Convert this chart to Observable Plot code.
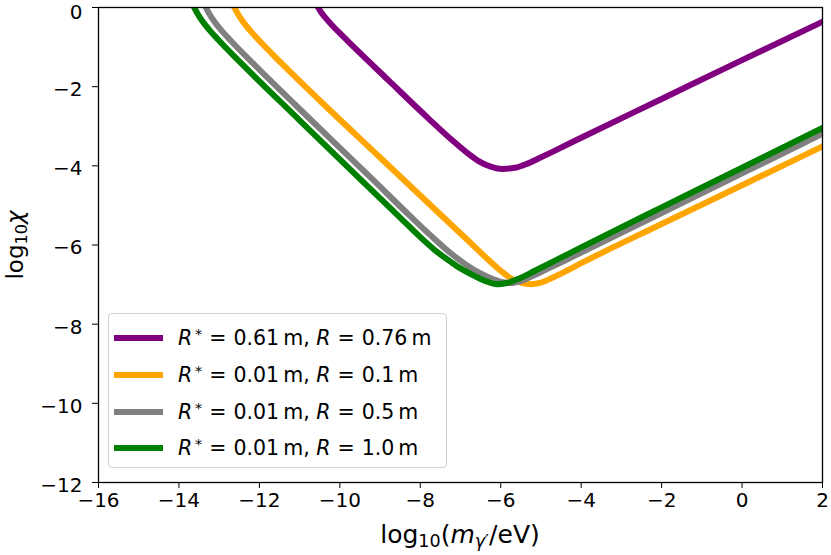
<!DOCTYPE html>
<html>
<head>
<meta charset="utf-8">
<script src="https://cdn.jsdelivr.net/npm/d3@7"></script>
<script src="https://cdn.jsdelivr.net/npm/@observablehq/plot@0.6"></script>
<style>
  html, body { margin: 0; padding: 0; background: white; }
  #wrap { position: relative; width: 831px; height: 555px; font-family: "DejaVu Sans", sans-serif; color: black; }
  #chart svg { display: block; }
  .legend { position: absolute; left: 108px; top: 313px; width: 339px; height: 155px; border: 1px solid #d0d0d0; border-radius: 4px; background: rgba(255,255,255,0.85); box-sizing: border-box; }
  .row { position: absolute; left: 0; height: 30px; display: flex; align-items: center; font-size: 20.5px; white-space: nowrap; }
  .swatch { display: inline-block; width: 49px; height: 6px; margin-left: 5px; margin-right: 15px; }
  .row sup { font-size: 0.7em; vertical-align: 0.45em; line-height: 0; }
  .eq { margin: 0 7px; }
  .xlabel { position: absolute; left: 460px; top: 520px; transform: translateX(-50%); font-size: 25px; white-space: nowrap; }
  .ylabel { position: absolute; left: 15px; top: 245px; transform: translate(-50%, -50%) rotate(-90deg); font-size: 23px; white-space: nowrap; }
  sub { font-size: 0.7em; vertical-align: -0.25em; line-height: 0; }
</style>
</head>
<body>
<div id="wrap">
  <div id="chart"></div>
  <div class="legend" id="legend"></div>
  <div class="xlabel">log<sub>10</sub>(<i>m</i><sub><i>γ</i>′</sub>/eV)</div>
  <div class="ylabel">log<sub>10</sub><i>χ</i></div>
</div>
<script>
// ---- data ----
const xTicks = [-16, -14, -12, -10, -8, -6, -4, -2, 0, 2];
const yTicks = [-12, -10, -8, -6, -4, -2, 0];

const seriesNames = [
  "R*=0.61 m, R=0.76 m",
  "R*=0.01 m, R=0.1 m",
  "R*=0.01 m, R=0.5 m",
  "R*=0.01 m, R=1.0 m"
];
const seriesColors = ["#800080", "#ffa500", "#808080", "#008000"];
const legendRstar = ["0.61", "0.01", "0.01", "0.01"];
const legendR = ["0.76", "0.1", "0.5", "1.0"];

const purpleX = [-10.54, -10.46, -10.35, -10.2, -10.0, -9.7, -8.8, -7.8, -7.2, -6.85, -6.55, -6.25, -5.96, -5.65, -5.35, -5.05, -4.7, -4.0, -2, 0, 2];
const purpleY = [0, -0.13, -0.27, -0.44, -0.65, -0.95, -1.83, -2.80, -3.36, -3.66, -3.88, -4.02, -4.08, -4.05, -3.95, -3.81, -3.64, -3.29, -2.31, -1.33, -0.36];

const orangeX = [-12.62, -12.53, -12.42, -12.25, -12.0, -11.46, -10.5, -9.0, -7.5, -6.8, -6.3, -6.0, -5.75, -5.5, -5.25, -5.0, -4.7, -4.35, -4.0, -2, 0, 2];
const orangeY = [0, -0.17, -0.34, -0.56, -0.84, -1.40, -2.35, -3.79, -5.23, -5.90, -6.38, -6.65, -6.84, -6.95, -6.99, -6.95, -6.82, -6.645, -6.46, -5.47, -4.49, -3.51];

const grayX = [-13.33, -13.24, -13.13, -12.96, -12.71, -12.17, -10.73, -9.23, -8.23, -7.73, -7.3, -6.9, -6.5, -6.2, -5.95, -5.75, -5.5, -5.2, -4.85, -4.4, -4.0, -2, 0, 2];
const grayY = [0, -0.17, -0.34, -0.56, -0.84, -1.40, -2.83, -4.30, -5.29, -5.77, -6.16, -6.47, -6.72, -6.86, -6.94, -6.96, -6.91, -6.78, -6.61, -6.39, -6.19, -5.19, -4.19, -3.19];

const greenX = [-13.62, -13.53, -13.42, -13.25, -13.0, -12.46, -11.0, -9.5, -8.49, -8.0, -7.6, -7.25, -7.0, -6.75, -6.5, -6.3, -6.1, -5.85, -5.55, -5.15, -4.6, -4.0, -2, 0, 2];
const greenY = [0, -0.17, -0.34, -0.56, -0.84, -1.40, -2.85, -4.33, -5.32, -5.80, -6.16, -6.42, -6.59, -6.73, -6.86, -6.94, -6.99, -6.96, -6.85, -6.65, -6.37, -6.06, -5.05, -4.05, -3.04];

const seriesX = [purpleX, orangeX, grayX, greenX];
const seriesY = [purpleY, orangeY, grayY, greenY];

// ---- build tables ----
const tables = seriesX.map((xs, i) => xs.map((x, j) => ({x, y: seriesY[i][j], series: seriesNames[i]})));

const fmt = d => (d < 0 ? "\u2212" + Math.abs(d) : String(d));

const lineMarks = tables.map((t, i) => Plot.line(t, {
  x: "x", y: "y",
  stroke: seriesColors[i],
  strokeWidth: 6,
  curve: "monotone-x",
  strokeLinejoin: "round",
  strokeLinecap: "square",
  clip: true
}));

const hasAxisMarks = typeof Plot.axisX === "function";
const axisMarks = hasAxisMarks ? [
  Plot.axisX({ticks: xTicks, tickFormat: fmt, tickSize: 6, tickPadding: 4, label: null, fontSize: 20}),
  Plot.axisY({ticks: yTicks, tickFormat: fmt, tickSize: 6, tickPadding: 10, label: null, fontSize: 20})
] : [];

const chart = Plot.plot({
  width: 831,
  height: 555,
  marginLeft: 98,
  marginRight: 9,
  marginTop: 7,
  marginBottom: 73,
  style: {fontFamily: "DejaVu Sans, sans-serif", fontSize: "20px", color: "black", background: "white"},
  x: Object.assign({domain: [-16, 2], label: null}, hasAxisMarks ? {} : {ticks: xTicks, tickFormat: fmt, tickSize: 6, tickPadding: 4}),
  y: Object.assign({domain: [-12, 0], label: null}, hasAxisMarks ? {} : {ticks: yTicks, tickFormat: fmt, tickSize: 6, tickPadding: 10}),
  marks: [
    ...lineMarks,
    Plot.frame({stroke: "black", strokeWidth: 1.3}),
    ...axisMarks
  ]
});
document.getElementById("chart").appendChild(chart);

// nudge y tick labels down slightly, as in the reference; keep the top "0" inside the picture
chart.querySelectorAll('g[aria-label="y-axis tick label"] text').forEach(t => {
  const shift = t.textContent === "0" ? 5 : 3;
  const tr = t.getAttribute("transform") || "";
  t.setAttribute("transform", (tr + ` translate(0,${shift})`).trim());
});

// ---- legend ----
const legend = document.getElementById("legend");
const rowTops = [9, 46, 83, 119];
seriesColors.forEach((c, i) => {
  const row = document.createElement("div");
  row.className = "row";
  row.style.top = rowTops[i] + "px";
  row.innerHTML = `<span class="swatch" style="background:${c}"></span>` +
    `<span><i>R</i><sup>\u2009*</sup><span class="eq">=</span>${legendRstar[i]}\u2009m, <i>R</i><span class="eq">=</span>${legendR[i]}\u2009m</span>`;
  legend.appendChild(row);
});
</script>
</body>
</html>
